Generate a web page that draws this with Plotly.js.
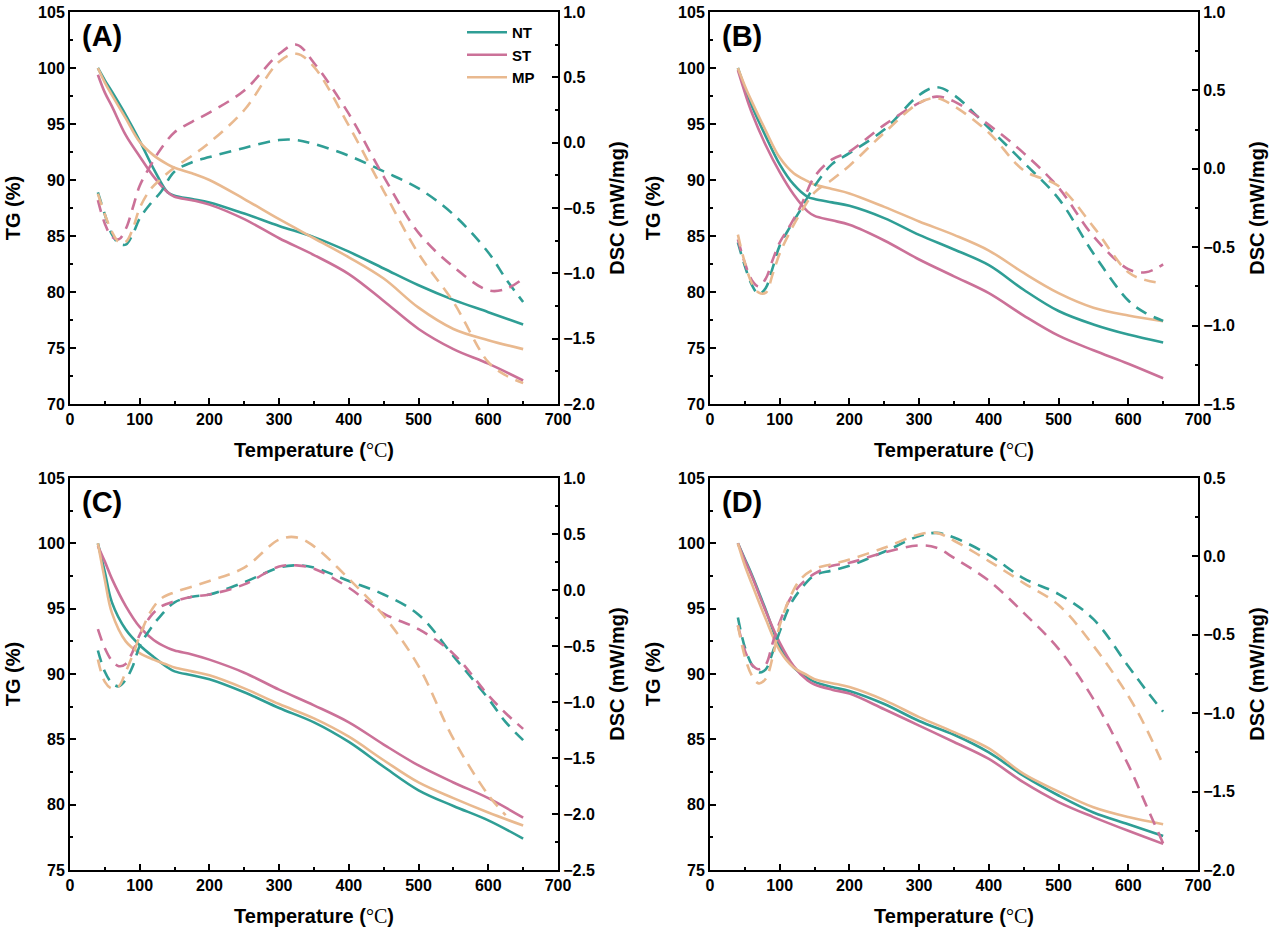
<!DOCTYPE html>
<html>
<head>
<meta charset="utf-8">
<script src="https://cdn.plot.ly/plotly-3.0.1.min.js"></script>
<style>
  html, body { margin: 0; padding: 0; background: #fff; }
  #chart { width: 1269px; height: 932px; }
</style>
</head>
<body>
<div id="chart"></div>
<script>
// temperature grids (°C)
const tempTG  = [40, 50, 60, 80, 100, 120, 140, 150, 175, 200, 250, 300, 350, 400, 450, 500, 550, 600, 650];
const tempDSC = [40, 50, 60, 70, 80, 90, 100, 115, 130, 150, 175, 200, 250, 300, 325, 350, 400, 450, 500, 550, 600, 625, 650];

const samples = ['NT', 'ST', 'MP'];
const panelLabels = ['(A)', '(B)', '(C)', '(D)'];

// TG (%) values
const tgA_NT = [100, 98.9, 97.9, 95.8, 93.5, 91.0, 88.9, 88.6, 88.3, 88.0, 87.0, 85.9, 84.9, 83.6, 82.1, 80.6, 79.3, 78.2, 77.1];
const tgA_ST = [99.4, 97.8, 96.6, 94.0, 92.1, 90.3, 88.9, 88.5, 88.2, 87.8, 86.5, 84.8, 83.3, 81.6, 79.2, 76.7, 74.9, 73.6, 72.1];
const tgA_MP = [100, 98.7, 97.6, 95.5, 93.4, 92.2, 91.4, 91.1, 90.6, 90.0, 88.3, 86.5, 84.8, 83.1, 81.2, 78.6, 76.7, 75.7, 74.9];

const tgB_NT = [100, 98.2, 96.6, 93.9, 91.4, 89.6, 88.5, 88.3, 88.0, 87.7, 86.6, 85.1, 83.8, 82.4, 80.2, 78.3, 77.1, 76.2, 75.5];
const tgB_ST = [99.8, 97.8, 96.0, 93.1, 90.7, 88.7, 87.2, 86.8, 86.4, 86.0, 84.6, 82.9, 81.4, 79.9, 77.9, 76.1, 74.8, 73.6, 72.3];
const tgB_MP = [100, 98.4, 97.0, 94.4, 92.0, 90.6, 89.9, 89.6, 89.2, 88.8, 87.6, 86.3, 85.1, 83.7, 81.7, 79.9, 78.6, 77.9, 77.4];

const tgC_NT = [100, 97.8, 95.5, 93.4, 92.2, 91.3, 90.5, 90.2, 89.9, 89.6, 88.6, 87.4, 86.3, 84.8, 82.9, 81.1, 79.9, 78.8, 77.4];
const tgC_ST = [99.8, 98.6, 97.3, 95.2, 93.6, 92.6, 92.0, 91.8, 91.5, 91.1, 90.1, 88.8, 87.6, 86.3, 84.6, 83.0, 81.7, 80.5, 79.0];
const tgC_MP = [100, 97.2, 94.7, 92.5, 91.6, 91.1, 90.7, 90.5, 90.2, 89.9, 88.9, 87.7, 86.6, 85.2, 83.4, 81.7, 80.5, 79.4, 78.4];

const tgD_NT = [100, 98.8, 97.6, 94.9, 92.1, 90.5, 89.7, 89.4, 89.0, 88.7, 87.7, 86.4, 85.35, 84.0, 82.2, 80.7, 79.4, 78.5, 77.6];
const tgD_ST = [100, 98.7, 97.5, 94.8, 92.4, 90.6, 89.5, 89.2, 88.8, 88.5, 87.3, 86.05, 84.8, 83.5, 81.7, 80.2, 79.05, 78.0, 77.0];
const tgD_MP = [100, 98.3, 96.9, 94.2, 91.8, 90.5, 89.9, 89.6, 89.3, 89.0, 88.0, 86.7, 85.55, 84.3, 82.35, 81.0, 79.8, 79.05, 78.5];

// DSC (mW/mg) values
const dscA_NT = [-0.38, -0.55, -0.70, -0.77, -0.78, -0.70, -0.58, -0.47, -0.38, -0.22, -0.15, -0.11, -0.04, 0.02, 0.02, -0.01, -0.10, -0.22, -0.35, -0.55, -0.84, -1.04, -1.22];
const dscA_ST = [-0.44, -0.62, -0.72, -0.74, -0.66, -0.50, -0.33, -0.18, -0.05, 0.08, 0.16, 0.23, 0.40, 0.68, 0.75, 0.61, 0.22, -0.26, -0.69, -0.95, -1.13, -1.12, -1.04];
const dscA_MP = [-0.39, -0.55, -0.68, -0.76, -0.76, -0.66, -0.50, -0.36, -0.28, -0.19, -0.10, 0.00, 0.25, 0.62, 0.68, 0.58, 0.13, -0.37, -0.85, -1.22, -1.68, -1.78, -1.84];

const dscB_NT = [-0.47, -0.62, -0.74, -0.80, -0.76, -0.63, -0.49, -0.37, -0.26, -0.11, 0.03, 0.10, 0.25, 0.47, 0.52, 0.47, 0.26, 0.04, -0.19, -0.54, -0.84, -0.92, -0.97];
const dscB_ST = [-0.45, -0.60, -0.71, -0.75, -0.70, -0.58, -0.47, -0.36, -0.24, -0.05, 0.06, 0.11, 0.28, 0.42, 0.46, 0.43, 0.28, 0.10, -0.12, -0.43, -0.64, -0.66, -0.61];
const dscB_MP = [-0.42, -0.60, -0.73, -0.79, -0.79, -0.67, -0.54, -0.40, -0.28, -0.15, -0.07, 0.02, 0.23, 0.42, 0.45, 0.40, 0.23, -0.01, -0.11, -0.37, -0.66, -0.71, -0.73];

const dscC_NT = [-0.54, -0.73, -0.83, -0.86, -0.80, -0.68, -0.50, -0.35, -0.23, -0.11, -0.06, -0.04, 0.07, 0.20, 0.22, 0.20, 0.08, -0.04, -0.22, -0.59, -0.97, -1.18, -1.34];
const dscC_ST = [-0.35, -0.52, -0.63, -0.68, -0.66, -0.55, -0.40, -0.24, -0.15, -0.10, -0.06, -0.04, 0.05, 0.21, 0.22, 0.19, 0.02, -0.21, -0.35, -0.57, -0.94, -1.10, -1.24];
const dscC_MP = [-0.62, -0.82, -0.88, -0.86, -0.73, -0.58, -0.41, -0.20, -0.08, -0.02, 0.03, 0.08, 0.20, 0.45, 0.47, 0.39, 0.10, -0.23, -0.68, -1.33, -1.83, -2.01, null];

const dscD_NT = [-0.39, -0.58, -0.69, -0.74, -0.72, -0.61, -0.48, -0.31, -0.21, -0.12, -0.09, -0.06, 0.03, 0.13, 0.15, 0.12, 0.01, -0.14, -0.24, -0.40, -0.70, -0.85, -0.99];
const dscD_ST = [-0.44, -0.60, -0.69, -0.72, -0.69, -0.55, -0.42, -0.27, -0.18, -0.11, -0.06, -0.04, 0.025, 0.07, 0.055, -0.01, -0.155, -0.36, -0.59, -0.91, -1.33, -1.58, -1.83];
const dscD_MP = [-0.44, -0.64, -0.76, -0.81, -0.78, -0.64, -0.44, -0.26, -0.145, -0.08, -0.05, -0.02, 0.055, 0.14, 0.15, 0.10, -0.03, -0.17, -0.31, -0.57, -0.89, -1.09, -1.33];

// axis ranges
const tgRanges  = [[70, 105], [70, 105], [75, 105], [75, 105]];
const dscRanges = [[-2, 1], [-1.5, 1], [-2.5, 1], [-2, 0.5]];

const colors = { NT: '#2f9e95', ST: '#cb7198', MP: '#e9b98f' };

const tgSets  = [[tgA_NT, tgA_ST, tgA_MP], [tgB_NT, tgB_ST, tgB_MP], [tgC_NT, tgC_ST, tgC_MP], [tgD_NT, tgD_ST, tgD_MP]];
const dscSets = [[dscA_NT, dscA_ST, dscA_MP], [dscB_NT, dscB_ST, dscB_MP], [dscC_NT, dscC_ST, dscC_MP], [dscD_NT, dscD_ST, dscD_MP]];

// panel positions in paper fractions
const W = 1269, H = 932;
const colDomains = [[70 / W, 558 / W], [710 / W, 1198 / W]];
const rowDomains = [[1 - 404 / H, 1 - 12 / H], [1 - 870 / H, 1 - 478 / H]];

const font = 'Liberation Sans, Arial, sans-serif';
const data = [];
const layout = {
  width: W, height: H,
  margin: { l: 0, r: 0, t: 0, b: 0 },
  paper_bgcolor: '#fff', plot_bgcolor: 'rgba(0,0,0,0)',
  font: { family: font, color: '#000' },
  showlegend: true,
  legend: {
    x: 462 / W, y: 1 - 16 / H, xanchor: 'left', yanchor: 'top',
    bgcolor: 'rgba(0,0,0,0)', itemwidth: 40, tracegroupgap: 0,
    font: { size: 15, weight: 'bold', family: font }
  },
  annotations: []
};

const axisCommon = {
  showline: true, linewidth: 2, linecolor: '#000',
  showgrid: false, zeroline: false,
  ticks: 'inside', ticklen: 6, tickwidth: 2, tickcolor: '#000',
  tickfont: { size: 16, weight: 'bold', family: font }
};

for (let p = 0; p < 4; p++) {
  const xi = p + 1, yl = 2 * p + 1, yr = 2 * p + 2;
  const xName = xi === 1 ? 'x' : 'x' + xi;
  const ylName = yl === 1 ? 'y' : 'y' + yl;
  const yrName = 'y' + yr;
  const col = p % 2, row = Math.floor(p / 2);

  samples.forEach((s, k) => {
    data.push({
      x: tempTG, y: tgSets[p][k], xaxis: xName, yaxis: ylName,
      type: 'scatter', mode: 'lines', name: s,
      line: { color: colors[s], width: 2.6, shape: 'spline', smoothing: 1 },
      showlegend: p === 0
    });
  });
  samples.forEach((s, k) => {
    data.push({
      x: tempDSC, y: dscSets[p][k], xaxis: xName, yaxis: yrName,
      type: 'scatter', mode: 'lines', name: s + ' DSC',
      line: { color: colors[s], width: 2.6, dash: '12px,8px', shape: 'spline', smoothing: 1 },
      showlegend: false
    });
  });

  layout['xaxis' + (xi === 1 ? '' : xi)] = Object.assign({}, axisCommon, {
    domain: colDomains[col], anchor: ylName, range: [0, 700], dtick: 100, tick0: 0,
    mirror: true,
    minor: { dtick: 50, ticks: 'inside', ticklen: 3, tickwidth: 2, tickcolor: '#000' },
    title: {
      text: 'Temperature (<span style="font-family:Liberation Serif;font-weight:normal">°C</span>)',
      font: { size: 20, weight: 'bold', family: font }, standoff: 16
    }
  });
  layout['yaxis' + (yl === 1 ? '' : yl)] = Object.assign({}, axisCommon, {
    domain: rowDomains[row], anchor: xName, range: tgRanges[p], dtick: 5, tick0: 0,
    minor: { dtick: 2.5, ticks: 'inside', ticklen: 3, tickwidth: 2, tickcolor: '#000' },
    title: { text: 'TG (%)', font: { size: 20, weight: 'bold', family: font }, standoff: 12 }
  });
  layout['yaxis' + yr] = Object.assign({}, axisCommon, {
    overlaying: ylName, side: 'right', anchor: xName, range: dscRanges[p], dtick: 0.5, tick0: 0,
    tickformat: '.1f',
    minor: { dtick: 0.25, ticks: 'inside', ticklen: 3, tickwidth: 2, tickcolor: '#000' },
    title: { text: 'DSC (mW/mg)', font: { size: 20, weight: 'bold', family: font }, standoff: 16 }
  });

  layout.annotations.push({
    xref: xName + ' domain', yref: ylName + ' domain', x: 0.02, y: 0.985,
    xanchor: 'left', yanchor: 'top', showarrow: false,
    text: panelLabels[p], font: { size: 29, weight: 'bold', family: font }
  });
}

Plotly.newPlot('chart', data, layout, { displayModeBar: false, staticPlot: true });
</script>
</body>
</html>
